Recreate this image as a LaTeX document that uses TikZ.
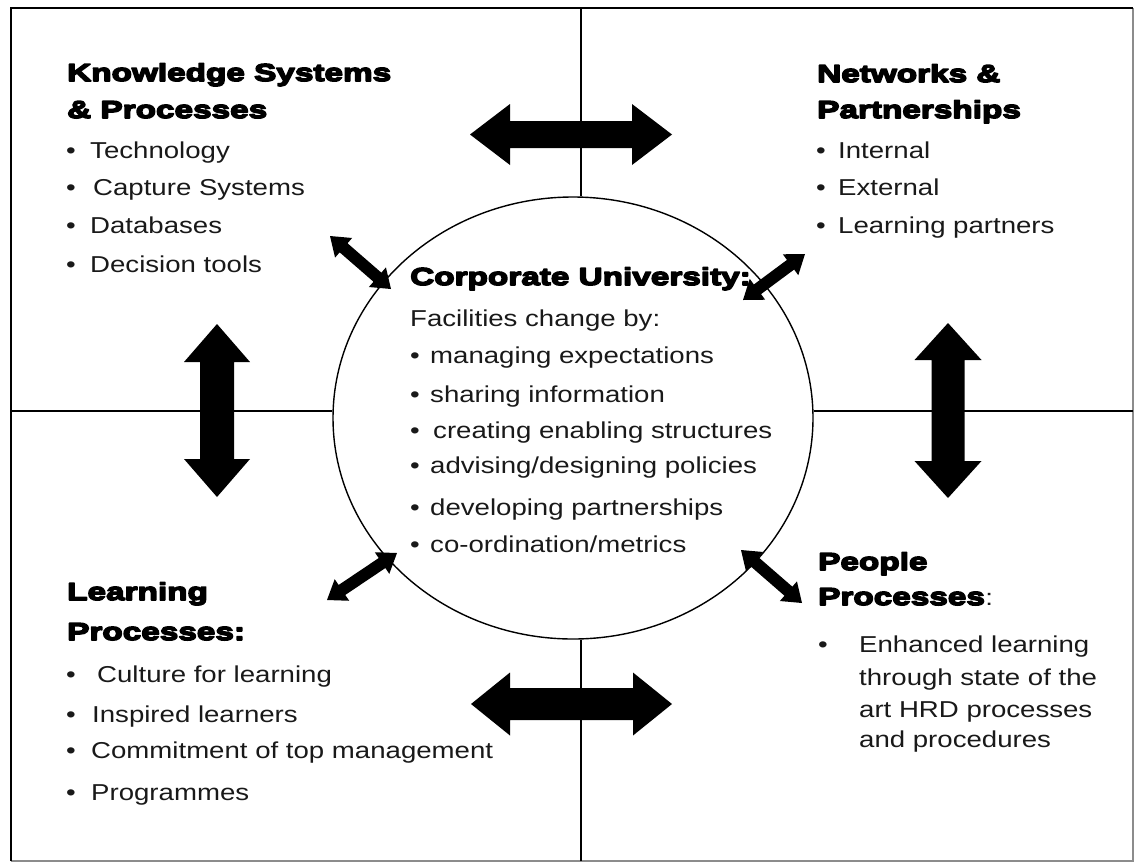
\documentclass[tikz,border=0pt]{standalone}
\usepackage{fontspec}
\usetikzlibrary{calc,shapes.geometric}
\newfontfamily\bodyfont{Liberation Sans}[FakeStretch=1.2]
\newfontfamily\headfont{Liberation Sans}[UprightFont=* Bold,FakeStretch=1.36]

% extra-heavy heading: glyphs filled and outlined
\newcommand\heavy[1]{\special{pdf:literal direct 2 Tr 1.5 w 1 j}#1\special{pdf:literal direct 0 Tr}}

% filled two-headed block arrow between two named points:
% #1,#2 ends, #3 head length, #4 half shaft width, #5 half head width
\newcommand\twowayarrow[5]{%
  \fill (#1) -- ($(#1)!#3!(#2)!#5!90:(#2)$) -- ($(#1)!#3!(#2)!#4!90:(#2)$)
    -- ($(#2)!#3!(#1)!#4!-90:(#1)$) -- ($(#2)!#3!(#1)!#5!-90:(#1)$)
    -- (#2) -- ($(#2)!#3!(#1)!#5!90:(#1)$) -- ($(#2)!#3!(#1)!#4!90:(#1)$)
    -- ($(#1)!#3!(#2)!#4!-90:(#2)$) -- ($(#1)!#3!(#2)!#5!-90:(#2)$) -- cycle;}

\begin{document}
\begin{tikzpicture}[x=1pt,y=-1pt,
  head/.style={font=\headfont\fontsize{24.5}{24.5}\selectfont,inner sep=0pt,anchor=base west},
  body/.style={font=\bodyfont\fontsize{23}{23}\selectfont,inner sep=0pt,anchor=base west,text=black!90},
  dot/.style={body},
  rule/.style={line width=1.2pt}]
\useasboundingbox (0,0) rectangle (1135,863);

% outer frame
\draw[line width=1.3pt, black!45] (1133,8) -- (1133,861) -- (11,861);
\draw[line width=1.6pt] (11,861) -- (11,8) -- (1133,8);

% central circle
\node[draw, ellipse, line width=1.4pt, minimum width=480pt, minimum height=442pt, inner sep=0pt] (cu) at (573,418) {};

% quadrant dividers
\coordinate (ftop) at (581,8);
\coordinate (fbot) at (581,861);
\coordinate (fleft) at (11,411);
\coordinate (fright) at (1133,411);
\draw[rule] (ftop) -- (ftop |- cu.north);
\draw[rule] (fbot) -- (fbot |- cu.south);
\draw[rule] (fleft) -- (fleft -| cu.west);
\draw[rule] (fright) -- (fright -| cu.east);

% Knowledge Systems & Processes
\node[head] (ks1) at (67,81) {\heavy{Knowledge Systems}};
\node[head] (ks2) at (67,118) {\heavy{\& Processes}};
\node[dot] (ksb1) at (66,158) {•};
\node[dot] (ksb2) at (66,195) {•};
\node[dot] (ksb3) at (66,233) {•};
\node[dot] (ksb4) at (66,272) {•};
\node[body] (kst1) at (90,158) {Technology};
\node[body] (kst2) at (93,195) {Capture Systems};
\node[body] (kst3) at (90,233) {Databases};
\node[body] (kst4) at (90,272) {Decision tools};

% Networks & Partnerships
\node[head] (np1) at (817,82) {\heavy{Networks \&}};
\node[head] (np2) at (817,118) {\heavy{Partnerships}};
\node[dot] (npb1) at (816,158) {•};
\node[dot] (npb2) at (816,195) {•};
\node[dot] (npb3) at (816,233) {•};
\node[body] (npt1) at (838,158) {Internal};
\node[body] (npt2) at (838,195) {External};
\node[body] (npt3) at (838,233) {Learning partners};

% Corporate University
\node[head] (cu1) at (410,285) {\heavy{Corporate University:}};
\node[body] (cu2) at (410,326) {Facilities change by:};
\node[dot] (cub1) at (410,363) {•};
\node[dot] (cub2) at (410,402) {•};
\node[dot] (cub3) at (410,438) {•};
\node[dot] (cub4) at (410,473) {•};
\node[dot] (cub5) at (410,515) {•};
\node[dot] (cub6) at (410,552) {•};
\node[body] (cut1) at (430,363) {managing expectations};
\node[body] (cut2) at (430,402) {sharing information};
\node[body] (cut3) at (433,438) {creating enabling structures};
\node[body] (cut4) at (430,473) {advising/designing policies};
\node[body] (cut5) at (430,515) {developing partnerships};
\node[body] (cut6) at (430,552) {co-ordination/metrics};

% Learning Processes
\node[head] (lp1) at (67,600) {\heavy{Learning}};
\node[head] (lp2) at (67,640) {\heavy{Processes:}};
\node[dot] (lpb1) at (66,682) {•};
\node[dot] (lpb2) at (66,722) {•};
\node[dot] (lpb3) at (66,758) {•};
\node[dot] (lpb4) at (66,800) {•};
\node[body] (lpt1) at (97,682) {Culture for learning};
\node[body] (lpt2) at (92,722) {Inspired learners};
\node[body] (lpt3) at (91,758) {Commitment of top management};
\node[body] (lpt4) at (91,800) {Programmes};

% People Processes
\node[head] (pp1) at (818,570) {\heavy{People}};
\node[head] (pp2) at (818,605) {\heavy{Processes}};
\node[body] (pp2c) at (pp2.base east) {:};
\node[dot] (ppb1) at (818,652) {•};
\node[body] (ppt1) at (859,652) {Enhanced learning};
\node[body] (ppt2) at (859,685) {through state of the};
\node[body] (ppt3) at (859,717) {art HRD processes};
\node[body] (ppt4) at (859,747) {and procedures};

% block arrows between the quadrants
\coordinate (tA) at (470,134.5);  \coordinate (tB) at (672,134.5);
\coordinate (bA) at (471,704);    \coordinate (bB) at (672,704);
\coordinate (lA) at (217,324);    \coordinate (lB) at (217,497);
\coordinate (rA) at (948,323);    \coordinate (rB) at (948,498);
\twowayarrow{tA}{tB}{40pt}{13.5pt}{30.5pt}
\twowayarrow{bA}{bB}{39pt}{16pt}{31.5pt}
\twowayarrow{lA}{lB}{38pt}{17pt}{33pt}
\twowayarrow{rA}{rB}{37pt}{16.5pt}{33.5pt}

% arrows between the quadrants and the circle
\coordinate (ulA) at (330,236);  \coordinate (ulB) at (391,289);
\coordinate (urA) at (743,300);  \coordinate (urB) at (805,254);
\coordinate (llA) at (397,553);  \coordinate (llB) at (327,600);
\coordinate (lrA) at (741,550);  \coordinate (lrB) at (802,603);
\twowayarrow{ulA}{ulB}{18pt}{6pt}{13pt}
\twowayarrow{urA}{urB}{18pt}{6pt}{13pt}
\twowayarrow{llA}{llB}{18pt}{6pt}{13pt}
\twowayarrow{lrA}{lrB}{18pt}{6pt}{13pt}
\end{tikzpicture}
\end{document}
